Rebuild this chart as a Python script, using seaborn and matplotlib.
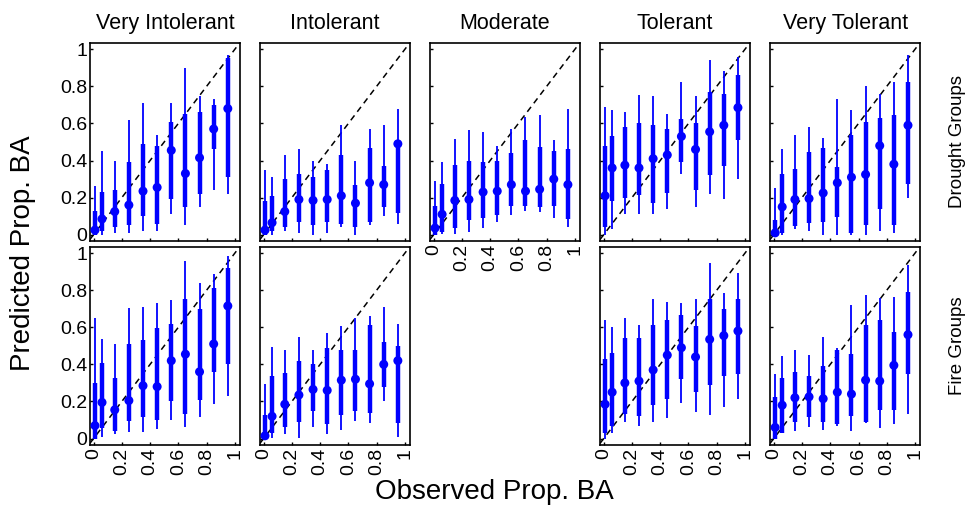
import numpy as np
import pandas as pd
import seaborn as sns
import matplotlib.pyplot as plt

# observed proportion bins (x positions of the points)
obs_bins = [0.01, 0.06, 0.15, 0.25, 0.35, 0.45, 0.55, 0.65, 0.75, 0.85, 0.95]

group_names = ['Very Intolerant', 'Intolerant', 'Moderate', 'Tolerant', 'Very Tolerant']
row_names = ['Drought Groups', 'Fire Groups']
tick_vals = [0, 0.2, 0.4, 0.6, 0.8, 1]
tick_labels = ['0', '0.2', '0.4', '0.6', '0.8', '1']

# Drought groups: median, inner interval (lo/hi), outer interval (lo/hi)
d_vint_med = [0.025, 0.085, 0.125, 0.16, 0.235, 0.255, 0.455, 0.33, 0.415, 0.57, 0.68]
d_vint_in_lo = [0.0, 0.02, 0.04, 0.05, 0.10, 0.06, 0.19, 0.15, 0.22, 0.46, 0.31]
d_vint_in_hi = [0.13, 0.23, 0.24, 0.39, 0.49, 0.48, 0.61, 0.65, 0.66, 0.70, 0.95]
d_vint_out_lo = [0.0, 0.0, 0.01, 0.01, 0.02, 0.02, 0.11, 0.05, 0.15, 0.24, 0.22]
d_vint_out_hi = [0.26, 0.45, 0.40, 0.62, 0.71, 0.54, 0.71, 0.90, 0.75, 0.73, 0.97]

d_int_med = [0.025, 0.065, 0.125, 0.19, 0.185, 0.19, 0.21, 0.17, 0.28, 0.27, 0.49]
d_int_in_lo = [0.0, 0.02, 0.04, 0.07, 0.05, 0.07, 0.06, 0.04, 0.07, 0.15, 0.115]
d_int_in_hi = [0.18, 0.21, 0.30, 0.33, 0.31, 0.35, 0.43, 0.27, 0.47, 0.37, 0.49]
d_int_out_lo = [0.0, 0.0, 0.02, 0.01, 0.0, 0.01, 0.04, 0.0, 0.05, 0.10, 0.06]
d_int_out_hi = [0.35, 0.31, 0.43, 0.46, 0.40, 0.38, 0.59, 0.40, 0.57, 0.59, 0.68]

d_mod_med = [0.036, 0.11, 0.185, 0.19, 0.23, 0.235, 0.27, 0.235, 0.245, 0.30, 0.27]
d_mod_in_lo = [0.0, 0.015, 0.035, 0.08, 0.09, 0.105, 0.155, 0.155, 0.15, 0.155, 0.085]
d_mod_in_hi = [0.155, 0.275, 0.375, 0.40, 0.39, 0.40, 0.44, 0.51, 0.475, 0.45, 0.46]
d_mod_out_lo = [0.0, 0.005, 0.005, 0.015, 0.035, 0.07, 0.105, 0.13, 0.12, 0.09, 0.04]
d_mod_out_hi = [0.29, 0.39, 0.515, 0.565, 0.555, 0.48, 0.57, 0.635, 0.645, 0.51, 0.68]

d_tol_med = [0.21, 0.36, 0.375, 0.36, 0.41, 0.43, 0.53, 0.46, 0.555, 0.59, 0.685]
d_tol_in_lo = [0.04, 0.18, 0.20, 0.215, 0.17, 0.225, 0.39, 0.24, 0.32, 0.37, 0.51]
d_tol_in_hi = [0.48, 0.53, 0.58, 0.60, 0.59, 0.57, 0.625, 0.60, 0.77, 0.76, 0.86]
d_tol_out_lo = [0.0, 0.03, 0.11, 0.11, 0.11, 0.14, 0.325, 0.15, 0.22, 0.19, 0.30]
d_tol_out_hi = [0.69, 0.67, 0.66, 0.755, 0.75, 0.65, 0.825, 0.75, 0.94, 0.88, 0.96]

d_vtol_med = [0.01, 0.15, 0.19, 0.195, 0.225, 0.28, 0.31, 0.325, 0.48, 0.38, 0.59]
d_vtol_in_lo = [0.0, 0.01, 0.045, 0.065, 0.07, 0.095, 0.01, 0.05, 0.14, 0.055, 0.275]
d_vtol_in_hi = [0.08, 0.33, 0.355, 0.445, 0.47, 0.365, 0.535, 0.61, 0.63, 0.645, 0.825]
d_vtol_out_lo = [0.0, 0.0, 0.03, 0.02, 0.0, 0.0, 0.0, 0.0, 0.02, 0.01, 0.20]
d_vtol_out_hi = [0.25, 0.46, 0.535, 0.58, 0.52, 0.73, 0.675, 0.80, 0.76, 0.825, 0.97]

# Fire groups (no Moderate panel)
f_vint_med = [0.07, 0.195, 0.155, 0.205, 0.285, 0.28, 0.42, 0.455, 0.36, 0.51, 0.715]
f_vint_in_lo = [0.0, 0.055, 0.04, 0.095, 0.115, 0.10, 0.20, 0.135, 0.21, 0.36, 0.40]
f_vint_in_hi = [0.30, 0.41, 0.325, 0.51, 0.53, 0.595, 0.615, 0.75, 0.70, 0.81, 0.92]
f_vint_out_lo = [0.0, 0.01, 0.025, 0.035, 0.035, 0.05, 0.10, 0.065, 0.115, 0.185, 0.23]
f_vint_out_hi = [0.65, 0.535, 0.51, 0.705, 0.71, 0.73, 0.745, 0.955, 0.84, 0.885, 0.985]

f_int_med = [0.015, 0.12, 0.185, 0.235, 0.265, 0.26, 0.315, 0.32, 0.295, 0.40, 0.42]
f_int_in_lo = [0.0, 0.03, 0.065, 0.09, 0.15, 0.08, 0.125, 0.15, 0.14, 0.28, 0.085]
f_int_in_hi = [0.125, 0.335, 0.355, 0.42, 0.40, 0.49, 0.48, 0.475, 0.61, 0.52, 0.50]
f_int_out_lo = [0.0, 0.005, 0.025, 0.005, 0.065, 0.025, 0.045, 0.095, 0.085, 0.20, 0.01]
f_int_out_hi = [0.295, 0.495, 0.475, 0.545, 0.475, 0.57, 0.605, 0.65, 0.66, 0.71, 0.62]

f_tol_med = [0.185, 0.25, 0.30, 0.31, 0.37, 0.45, 0.49, 0.44, 0.535, 0.555, 0.58]
f_tol_in_lo = [0.03, 0.07, 0.135, 0.12, 0.18, 0.215, 0.32, 0.25, 0.29, 0.335, 0.35]
f_tol_in_hi = [0.43, 0.46, 0.54, 0.54, 0.61, 0.64, 0.665, 0.605, 0.75, 0.70, 0.755]
f_tol_out_lo = [0.0, 0.03, 0.09, 0.07, 0.09, 0.11, 0.19, 0.145, 0.125, 0.17, 0.215]
f_tol_out_hi = [0.64, 0.60, 0.65, 0.61, 0.75, 0.735, 0.73, 0.755, 0.945, 0.785, 0.895]

f_vtol_med = [0.06, 0.18, 0.22, 0.225, 0.215, 0.25, 0.24, 0.315, 0.31, 0.395, 0.56]
f_vtol_in_lo = [0.0, 0.03, 0.09, 0.115, 0.09, 0.08, 0.12, 0.09, 0.155, 0.155, 0.35]
f_vtol_in_hi = [0.225, 0.325, 0.36, 0.34, 0.39, 0.48, 0.455, 0.61, 0.64, 0.575, 0.79]
f_vtol_out_lo = [0.0, 0.03, 0.04, 0.065, 0.045, 0.07, 0.04, 0.085, 0.055, 0.08, 0.135]
f_vtol_out_hi = [0.35, 0.445, 0.48, 0.45, 0.545, 0.49, 0.72, 0.775, 0.76, 0.765, 0.935]

panels = {
    (0, 0): (d_vint_med, d_vint_in_lo, d_vint_in_hi, d_vint_out_lo, d_vint_out_hi),
    (0, 1): (d_int_med, d_int_in_lo, d_int_in_hi, d_int_out_lo, d_int_out_hi),
    (0, 2): (d_mod_med, d_mod_in_lo, d_mod_in_hi, d_mod_out_lo, d_mod_out_hi),
    (0, 3): (d_tol_med, d_tol_in_lo, d_tol_in_hi, d_tol_out_lo, d_tol_out_hi),
    (0, 4): (d_vtol_med, d_vtol_in_lo, d_vtol_in_hi, d_vtol_out_lo, d_vtol_out_hi),
    (1, 0): (f_vint_med, f_vint_in_lo, f_vint_in_hi, f_vint_out_lo, f_vint_out_hi),
    (1, 1): (f_int_med, f_int_in_lo, f_int_in_hi, f_int_out_lo, f_int_out_hi),
    (1, 3): (f_tol_med, f_tol_in_lo, f_tol_in_hi, f_tol_out_lo, f_tol_out_hi),
    (1, 4): (f_vtol_med, f_vtol_in_lo, f_vtol_in_hi, f_vtol_out_lo, f_vtol_out_hi),
}

sns.set_style('ticks')
plt.rcParams['font.family'] = ['Liberation Sans', 'DejaVu Sans']
plt.rcParams['xtick.direction'] = 'in'
plt.rcParams['ytick.direction'] = 'in'
plt.rcParams['text.color'] = 'black'
plt.rcParams['xtick.color'] = 'black'
plt.rcParams['ytick.color'] = 'black'
plt.rcParams['axes.labelcolor'] = 'black'

fig, axes = plt.subplots(2, 5, figsize=(9.72, 5.11), dpi=100)
fig.subplots_adjust(left=0.0926, right=0.9465, top=0.9164, bottom=0.129,
                    wspace=0.135, hspace=0.027)

lims = (-0.025, 1.035)
for r in range(2):
    for c in range(5):
        ax = axes[r, c]
        if (r, c) not in panels:
            ax.axis('off')
            continue
        med, in_lo, in_hi, out_lo, out_hi = panels[(r, c)]
        df = pd.DataFrame({'obs': obs_bins, 'med': med, 'in_lo': in_lo,
                           'in_hi': in_hi, 'out_lo': out_lo, 'out_hi': out_hi})
        ax.plot(lims, lims, ls=(0, (4, 3)), color='black', lw=1.1, zorder=1)
        ax.vlines(df['obs'], df['out_lo'], df['out_hi'], color='blue', lw=1.3, zorder=2)
        ax.vlines(df['obs'], df['in_lo'], df['in_hi'], color='blue', lw=3.2, zorder=2)
        sns.scatterplot(data=df, x='obs', y='med', color='blue', s=42,
                        edgecolor='none', ax=ax, zorder=3)
        ax.set_xlim(lims)
        ax.set_ylim(-0.035, 1.035)
        ax.set_xticks(tick_vals)
        ax.set_yticks(tick_vals)
        ax.set_xlabel('')
        ax.set_ylabel('')
        ax.tick_params(length=2.5, width=1, labelsize=14, pad=2)
        for s in ax.spines.values():
            s.set_linewidth(1.2)
            s.set_color('black')
        if c == 0:
            ax.set_yticklabels(tick_labels)
        else:
            ax.set_yticklabels([])
        if r == 1 or (r, c) == (0, 2):
            ax.set_xticklabels(tick_labels, rotation=90)
        else:
            ax.set_xticklabels([])
        if r == 0:
            ax.set_title(group_names[c], fontsize=15.5, pad=10)

for r, name in enumerate(row_names):
    pos = axes[r, 4].get_position()
    fig.text(0.985, (pos.y0 + pos.y1) / 2, name, rotation=90, ha='center',
             va='center', fontsize=13.5)

fig.text(0.509, 0.037, 'Observed Prop. BA', ha='center', va='center', fontsize=20)
fig.text(0.024, 0.505, 'Predicted Prop. BA', ha='center', va='center',
         rotation=90, fontsize=20)

fig.savefig('out.png', dpi=100)
